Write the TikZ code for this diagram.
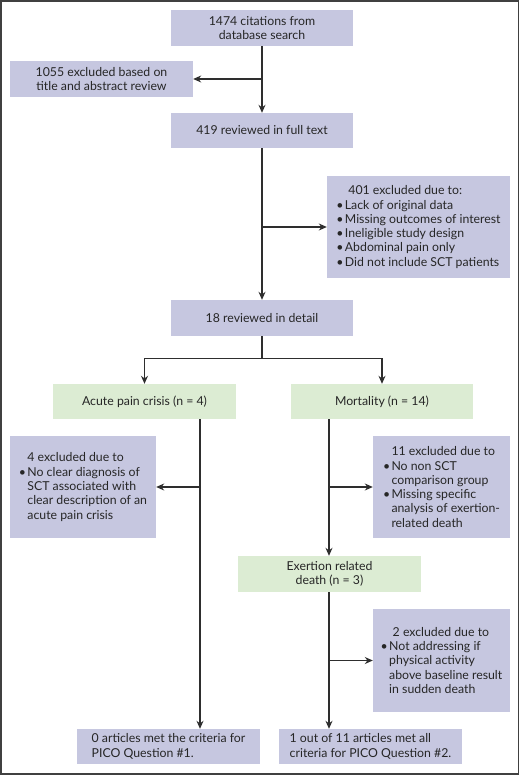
\documentclass[tikz,border=0pt]{standalone}
\usepackage{fontspec}
\setmainfont{Lato}
\usetikzlibrary{arrows.meta}
\definecolor{boxblue}{HTML}{C6C7E0}
\definecolor{boxgreen}{HTML}{DCECD3}
\definecolor{linec}{HTML}{2E2E2E}
\tikzset{
  base/.style={rectangle, inner sep=0pt, font=\fontsize{12.3}{14.3}\selectfont, text=black!85},
  pbox/.style={base, fill=boxblue, align=center},
  gbox/.style={base, fill=boxgreen, align=center},
  arr/.style={draw=linec, line width=1.1pt, -{Stealth[length=8pt,width=7pt]}},
  ln/.style={draw=linec, line width=1.1pt},
}
\newcommand{\bul}{\makebox[8.5pt][l]{\textbullet}}
\newcommand{\cont}{\hspace*{8.5pt}}
\begin{document}
\begin{tikzpicture}[x=1pt,y=-1pt]
\useasboundingbox (0,0) rectangle (520,775);
\fill[white] (0,0) rectangle (520,775);
\draw[draw=black!75, line width=1.6pt] (0.8,0.8) rectangle (518.6,774);

\node[pbox, minimum width=182, minimum height=36] (b1) at (262,28) {1474 citations from\\database search};
\node[pbox, minimum width=183, minimum height=36] (b2) at (101.5,79) {1055 excluded based on\\title and abstract review};
\node[pbox, minimum width=182, minimum height=35] (b3) at (262,130.5) {419 reviewed in full text};
\node[pbox, minimum width=183, minimum height=102, align=left] (b4) at (418.5,227) {%
  \hspace*{12pt}401 excluded due to:\\
  \bul Lack of original data\\
  \bul Missing outcomes of interest\\
  \bul Ineligible study design\\
  \bul Abdominal pain only\\
  \bul Did not include SCT patients};
\node[pbox, minimum width=182, minimum height=36] (b5) at (262,318) {18 reviewed in detail};

\node[gbox, minimum width=183, minimum height=35] (acute) at (144.5,401.5) {Acute pain crisis (n = 4)};
\node[gbox, minimum width=182, minimum height=35] (mort) at (382,401.5) {Mortality (n = 14)};

\node[pbox, minimum width=146, minimum height=102, align=left] (ex1) at (83,487) {%
  \cont 4 excluded due to\\
  \bul No clear diagnosis of\\
  \cont SCT associated with\\
  \cont clear description of an\\
  \cont acute pain crisis};
\node[pbox, minimum width=137, minimum height=102, align=left] (ex2) at (441.5,487) {%
  \cont 11 excluded due to\\
  \bul No non SCT\\
  \cont comparison group\\
  \bul Missing specific\\
  \cont analysis of exertion-\\
  \cont related death};

\node[gbox, minimum width=183, minimum height=36] (exer) at (329.5,574) {Exertion related\\death (n = 3)};

\node[pbox, minimum width=137, minimum height=103, align=left] (ex3) at (441.5,660.5) {%
  \hspace*{12pt}2 excluded due to\\
  \bul Not addressing if\\
  \cont physical activity\\
  \cont above baseline result\\
  \cont in sudden death};

\node[pbox, minimum width=183, minimum height=35, align=left] (out1) at (168.5,746.5) {%
  0 articles met the criteria for\\PICO Question \#1.};
\node[pbox, minimum width=183, minimum height=35, align=left] (out2) at (370.5,746.5) {%
  1 out of 11 articles met all\\criteria for PICO Question \#2.};

\coordinate (lx) at (200,0);
\coordinate (mx) at (329,0);

\draw[arr] (b1) -- (b3);
\draw[arr] (b1.south |- b2.east) -- (b2.east);
\draw[arr] (b3) -- (b5);
\draw[arr] (b3.south |- b4.west) -- (b4.west);
\draw[ln] (b5.south) -- ++(0,22) coordinate (split);
\draw[arr] (split) -| (acute.north);
\draw[arr] (split) -| (mort.north);
\draw[arr] (acute.south -| lx) -- (out1.north -| lx);
\draw[arr] (ex1.east -| lx) -- (ex1.east);
\draw[arr] (mort.south -| mx) -- (exer.north -| mx);
\draw[arr] (ex2.west -| mx) -- (ex2.west);
\draw[arr] (exer.south -| mx) -- (out2.north -| mx);
\draw[arr] (ex3.west -| mx) -- (ex3.west);
\end{tikzpicture}
\end{document}
